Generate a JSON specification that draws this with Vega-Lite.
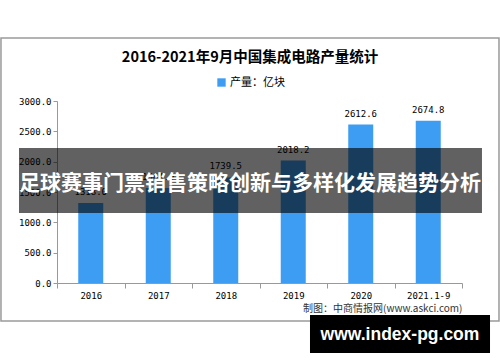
{
  "$schema": "https://vega.github.io/schema/vega-lite/v6.json",
  "width": 405,
  "height": 182,
  "autosize": "none",
  "padding": {"left": 57, "top": 101, "right": 38, "bottom": 79},
  "background": "white",
  "config": {"view": {"stroke": null}, "font": "Noto Sans CJK SC"},
  "title": {
    "text": "2016-2021年9月中国集成电路产量统计",
    "font": "Noto Sans CJK SC",
    "fontSize": 14.5,
    "fontWeight": "bold",
    "color": "#000000",
    "anchor": "middle",
    "frame": "group",
    "dx": -9.5,
    "offset": -28
  },
  "data": {
    "values": [
      {"year": "2016", "value": 1318.0},
      {"year": "2017", "value": 1564.9},
      {"year": "2018", "value": 1739.5},
      {"year": "2019", "value": 2018.2},
      {"year": "2020", "value": 2612.6},
      {"year": "2021.1-9", "value": 2674.8}
    ]
  },
  "resolve": {"scale": {"x": "independent", "y": "independent", "color": "independent"}, "axis": {"x": "independent", "y": "independent"}},
  "layer": [
    {
      "data": {"values": [{}]},
      "mark": {"type": "rect", "fill": "transparent", "stroke": "#9a9a9a", "strokeWidth": 1.5},
      "encoding": {
        "x": {"datum": -0.83, "type": "quantitative", "scale": {"domain": [0, 6], "nice": false, "zero": false}, "axis": null},
        "x2": {"datum": 6.548},
        "y": {"datum": 4038, "type": "quantitative", "scale": {"domain": [0, 3000], "nice": false}, "axis": null},
        "y2": {"datum": -626}
      }
    },
    {
      "mark": {"type": "bar", "size": 25},
      "encoding": {
        "x": {
          "field": "year", "type": "nominal", "sort": null,
          "scale": {"paddingInner": 0, "paddingOuter": 0},
          "axis": {
            "labelAngle": 0, "labelFont": "DejaVu Sans Mono", "labelFontSize": 9, "labelColor": "#000000",
            "domainColor": "#999999", "tickColor": "#999999", "tickSize": 5, "tickBand": "extent",
            "labelPadding": 3,
            "title": "制图：中商情报网(www.askci.com)", "titleAnchor": "end", "titleAlign": "right",
            "titleFont": "Noto Sans CJK SC", "titleFontSize": 10, "titleFontWeight": "normal", "titleColor": "#333333",
            "titlePadding": 3
          }
        },
        "y": {
          "field": "value", "type": "quantitative",
          "scale": {"domain": [0, 3000], "nice": false},
          "axis": {
            "values": [0, 500, 1000, 1500, 2000, 2500, 3000], "format": ".1f",
            "labelFont": "DejaVu Sans Mono", "labelFontSize": 9, "labelColor": "#000000",
            "domainColor": "#999999", "tickColor": "#999999", "tickSize": 4, "labelPadding": 2,
            "gridColor": "#dddddd", "title": null
          }
        },
        "color": {
          "datum": "产量：亿块",
          "scale": {"range": ["#3d9df2"]},
          "legend": {
            "orient": "none", "legendX": 159, "legendY": -24, "title": null,
            "symbolType": "square", "symbolSize": 70, "symbolStrokeWidth": 0,
            "labelFont": "Noto Sans CJK SC", "labelFontSize": 11, "labelColor": "#000000", "labelOffset": 3
          }
        }
      }
    },
    {
      "mark": {"type": "text", "dy": -6, "font": "DejaVu Sans Mono", "fontSize": 9, "color": "#000000", "baseline": "bottom"},
      "encoding": {
        "x": {"field": "year", "type": "nominal", "sort": null, "scale": {"paddingInner": 0, "paddingOuter": 0}, "axis": null},
        "y": {"field": "value", "type": "quantitative", "scale": {"domain": [0, 3000], "nice": false}, "axis": null},
        "text": {"field": "value", "type": "quantitative", "format": ".1f"}
      }
    },
    {
      "data": {"values": [{}]},
      "mark": {"type": "rect", "fill": "#000000", "fillOpacity": 0.62},
      "encoding": {
        "x": {"datum": -0.563, "type": "quantitative", "scale": {"domain": [0, 6], "nice": false, "zero": false}, "axis": null},
        "x2": {"datum": 6.296},
        "y": {"datum": 2225, "type": "quantitative", "scale": {"domain": [0, 3000], "nice": false}, "axis": null},
        "y2": {"datum": 1154}
      }
    },
    {
      "data": {"values": [{}]},
      "mark": {"type": "text", "text": "足球赛事门票销售策略创新与多样化发展趋势分析", "font": "Noto Sans CJK SC", "fontSize": 21, "fontWeight": "bold", "color": "#ffffff", "align": "center", "baseline": "middle"},
      "encoding": {
        "x": {"datum": 2.859, "type": "quantitative", "scale": {"domain": [0, 6], "nice": false, "zero": false}, "axis": null},
        "y": {"datum": 1632, "type": "quantitative", "scale": {"domain": [0, 3000], "nice": false}, "axis": null}
      }
    },
    {
      "data": {"values": [{}]},
      "mark": {"type": "rect", "fill": "#000000"},
      "encoding": {
        "x": {"datum": 3.748, "type": "quantitative", "scale": {"domain": [0, 6], "nice": false, "zero": false}, "axis": null},
        "x2": {"datum": 6.415},
        "y": {"datum": -527, "type": "quantitative", "scale": {"domain": [0, 3000], "nice": false}, "axis": null},
        "y2": {"datum": -1154}
      }
    },
    {
      "data": {"values": [{}]},
      "mark": {"type": "text", "text": "www.index-pg.com", "font": "Liberation Sans", "fontSize": 17.5, "fontWeight": "bold", "color": "#ffffff", "align": "center", "baseline": "middle"},
      "encoding": {
        "x": {"datum": 5.081, "type": "quantitative", "scale": {"domain": [0, 6], "nice": false, "zero": false}, "axis": null},
        "y": {"datum": -857, "type": "quantitative", "scale": {"domain": [0, 3000], "nice": false}, "axis": null}
      }
    }
  ]
}
